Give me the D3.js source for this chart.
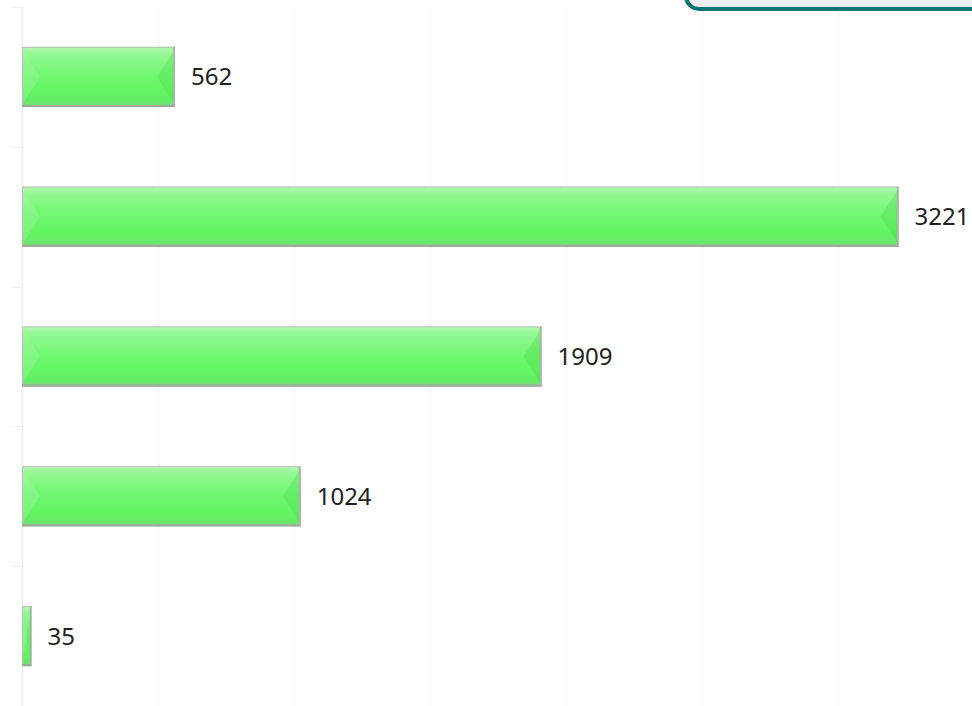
<!DOCTYPE html>
<html>
<head>
<meta charset="utf-8">
<script src="https://cdn.jsdelivr.net/npm/d3@7.9.0/dist/d3.min.js"></script>
<style>
  html, body { margin: 0; padding: 0; background: #fff; overflow: hidden; }
  svg { display: block; }
  .val { font-family: "Noto Sans", sans-serif; font-size: 24px; fill: #222; }
</style>
</head>
<body>
<svg id="chart" width="972" height="706"></svg>
<script>
// category labels are off-canvas in the reference, kept only as keys
const categories = ["cat1", "cat2", "cat3", "cat4", "cat5"];
const values     = [562, 3221, 1909, 1024, 35];
const xTicks     = [0, 500, 1000, 1500, 2000, 2500, 3000, 3500];

const W = 972, H = 706;
const svg = d3.select("#chart");

const x = d3.scaleLinear().domain([0, 3500]).range([22, 974.5]);
const y = d3.scaleBand().domain(categories).range([7, 706]).paddingInner(0.57).paddingOuter(0.285);

// gridlines
svg.append("g")
  .selectAll("line")
  .data(xTicks.slice(1))
  .join("line")
  .attr("x1", d => Math.round(x(d)) + 0.5)
  .attr("x2", d => Math.round(x(d)) + 0.5)
  .attr("y1", 8)
  .attr("y2", H)
  .attr("stroke", "#f3f3f3")
  .attr("stroke-width", 1.5);

// y axis line and ticks at band edges
const edges = categories.map(c => y(c) - y.step() * y.paddingInner() / 2);
edges.push(y.range()[1]);
svg.append("line")
  .attr("x1", 22.5).attr("x2", 22.5)
  .attr("y1", 7).attr("y2", H)
  .attr("stroke", "#eeeeee").attr("stroke-width", 1.5);
svg.append("g")
  .selectAll("line")
  .data(edges)
  .join("line")
  .attr("x1", 11).attr("x2", 22)
  .attr("y1", d => Math.round(d) + 0.5)
  .attr("y2", d => Math.round(d) + 0.5)
  .attr("stroke", "#eeeeee");

// gradient for bars
const defs = svg.append("defs");
const grad = defs.append("linearGradient")
  .attr("id", "barGrad").attr("x1", 0).attr("y1", 0).attr("x2", 0).attr("y2", 1);
[["0%", "#b6f9b6"], ["12%", "#93f893"], ["45%", "#72f772"], ["75%", "#62f562"], ["92%", "#66ea66"], ["100%", "#90d090"]]
  .forEach(([o, c]) => grad.append("stop").attr("offset", o).attr("stop-color", c));

const bars = svg.append("g")
  .selectAll("g")
  .data(categories.map((c, i) => ({ cat: c, value: values[i] })))
  .join("g");

bars.each(function (d) {
  const g = d3.select(this);
  const x0 = x(0), x1 = x(d.value);
  const y0 = y(d.cat), h = y.bandwidth(), y1 = y0 + h, ym = y0 + h / 2;
  const b = Math.min(18, (x1 - x0) / 2);

  g.append("rect")
    .attr("x", x0).attr("y", y0)
    .attr("width", x1 - x0).attr("height", h)
    .attr("fill", "url(#barGrad)");

  // left bevel
  g.append("path")
    .attr("d", `M${x0},${y0 + 2}L${x0 + b},${ym}L${x0},${y1 - 2}Z`)
    .attr("fill", "#b0f5a8").attr("opacity", 0.3);
  // right bevel
  g.append("path")
    .attr("d", `M${x1},${y0 + 2}L${x1 - b},${ym}L${x1},${y1 - 2}Z`)
    .attr("fill", "#48d848").attr("opacity", 0.3);

  // outline
  g.append("rect")
    .attr("x", x0 + 0.5).attr("y", y0 + 0.5)
    .attr("width", Math.max(0, x1 - x0 - 1)).attr("height", h - 1)
    .attr("fill", "none").attr("stroke", "#bdbdbd").attr("stroke-width", 1);
  g.append("line")
    .attr("x1", x0).attr("x2", x1)
    .attr("y1", y1 - 1).attr("y2", y1 - 1)
    .attr("stroke", "#9aa89a").attr("stroke-width", 2);
  g.append("line")
    .attr("x1", x1 - 1).attr("x2", x1 - 1)
    .attr("y1", y0).attr("y2", y1)
    .attr("stroke", "#a8b0a8").attr("stroke-width", 1.5);

  g.append("text")
    .attr("class", "val")
    .attr("x", x1 + 16)
    .attr("y", ym)
    .attr("dy", "0.35em")
    .text(d.value);
});

// cut-off legend box at top right
svg.append("rect")
  .attr("x", 686).attr("y", -40)
  .attr("width", 330).attr("height", 49)
  .attr("rx", 13)
  .attr("fill", "#eef0f4")
  .attr("stroke", "#0b7370")
  .attr("stroke-width", 4);
</script>
</body>
</html>
